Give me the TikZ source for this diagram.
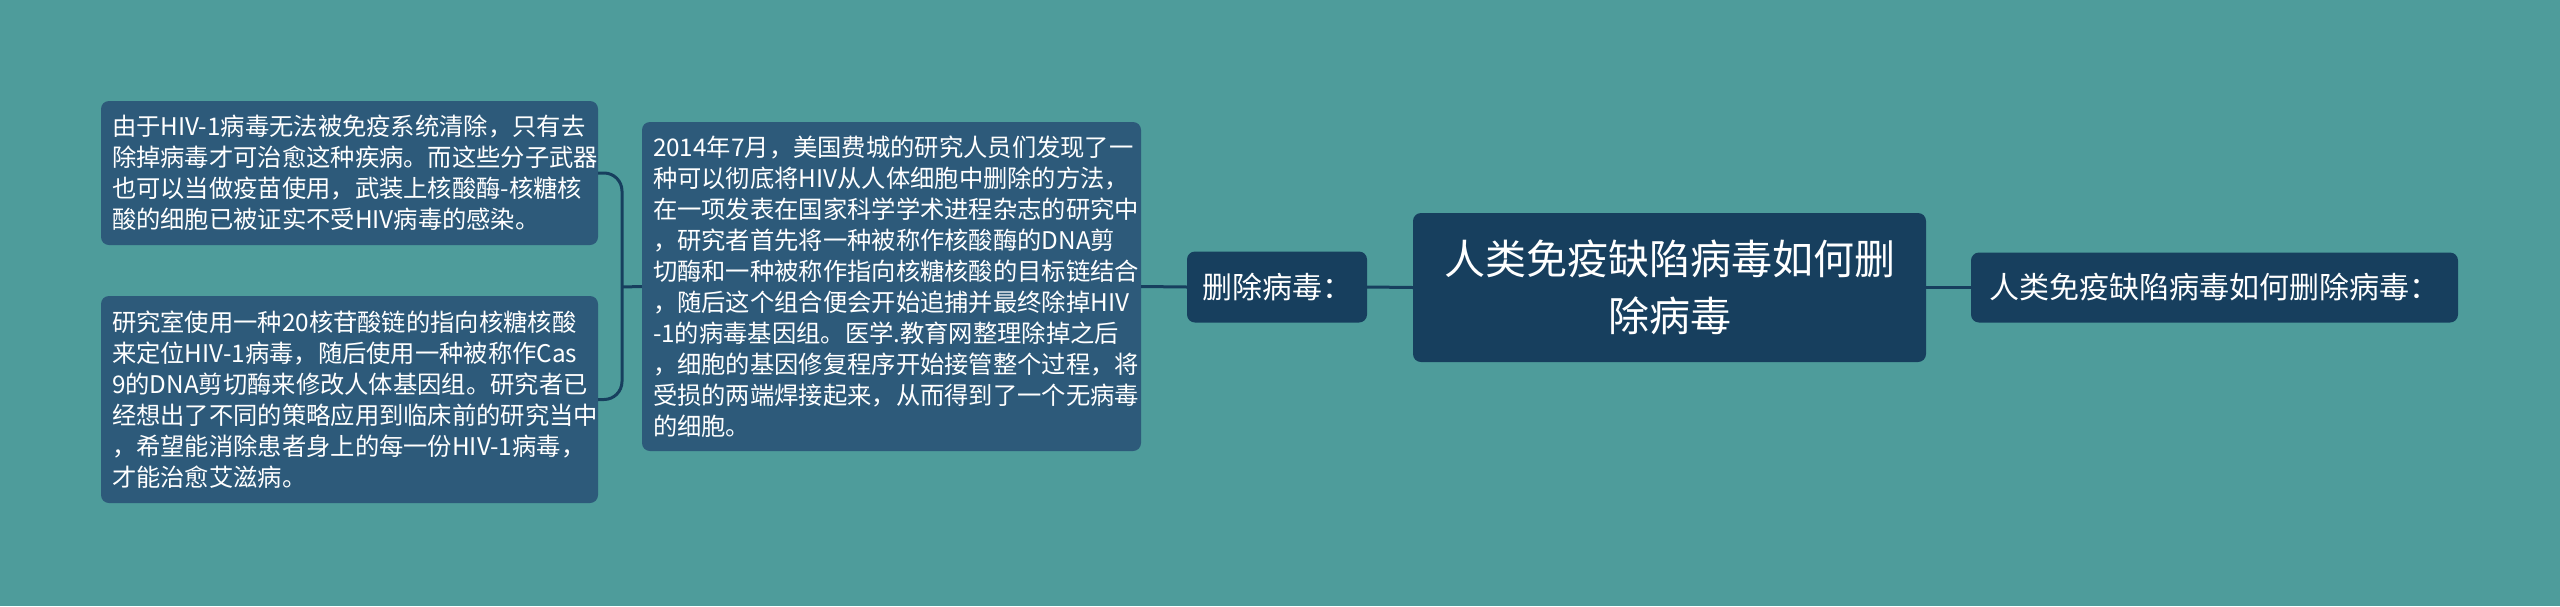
\documentclass[tikz,border=0pt]{standalone}
\usepackage{fontspec}
\setmainfont{Noto Sans CJK SC}
\definecolor{bgc}{HTML}{4E9C9B}
\definecolor{tboxc}{HTML}{2D5A7A}
\definecolor{darkc}{HTML}{173F5E}
\definecolor{linec}{HTML}{173F5E}
\tikzset{
  txtbox/.style={fill=tboxc, rounded corners=8pt, text=white, align=left,
    inner xsep=11pt, inner ysep=0pt, minimum width=497pt,
    font=\fontsize{24.3}{31}\selectfont},
  darkbox/.style={fill=darkc, rounded corners=8pt, text=white, align=center,
    inner sep=0pt},
  conn/.style={draw=linec, line width=3pt},
}
\begin{document}
\begin{tikzpicture}[x=1pt,y=-1pt]
\useasboundingbox (0,0) rectangle (2560,606);
\fill[bgc] (0,0) rectangle (2560,606);

\node[txtbox, text width=475pt, minimum height=144pt] (A) at (349.5,173) {由于HIV-1病毒无法被免疫系统清除，只有去\\除掉病毒才可治愈这种疾病。而这些分子武器\\也可以当做疫苗使用，武装上核酸酶-核糖核\\酸的细胞已被证实不受HIV病毒的感染。};

\node[txtbox, text width=475pt, minimum height=207pt] (B) at (349.5,399.5) {研究室使用一种20核苷酸链的指向核糖核酸\\来定位HIV-1病毒，随后使用一种被称作Cas\\9的DNA剪切酶来修改人体基因组。研究者已\\经想出了不同的策略应用到临床前的研究当中\\，希望能消除患者身上的每一份HIV-1病毒，\\才能治愈艾滋病。};

\node[txtbox, text width=477pt, minimum height=329pt] (C) at (891.5,286.5) {2014年7月，美国费城的研究人员们发现了一\\种可以彻底将HIV从人体细胞中删除的方法，\\在一项发表在国家科学学术进程杂志的研究中\\，研究者首先将一种被称作核酸酶的DNA剪\\切酶和一种被称作指向核糖核酸的目标链结合\\，随后这个组合便会开始追捕并最终除掉HIV\\-1的病毒基因组。医学.教育网整理除掉之后\\，细胞的基因修复程序开始接管整个过程，将\\受损的两端焊接起来，从而得到了一个无病毒\\的细胞。};

\node[darkbox, minimum width=180pt, minimum height=71pt, font=\fontsize{30}{36}\selectfont] (D) at (1277,287) {删除病毒：};

\node[darkbox, minimum width=513pt, minimum height=149pt, font=\fontsize{41}{57}\selectfont] (E) at (1669.5,287.5) {人类免疫缺陷病毒如何删\\除病毒};

\node[darkbox, minimum width=487pt, minimum height=70pt, font=\fontsize{30}{36}\selectfont] (F) at (2214.5,287.5) {人类免疫缺陷病毒如何删除病毒：};

\coordinate (brk) at (622,287);
\draw[conn] (F.west) -- (E.east);
\draw[conn] (E.west) -- (D.east);
\draw[conn] (D.west) -- (C.east);
\draw[conn] (C.west) -- (brk);
\draw[conn, rounded corners=18pt] (A.east) -| (brk) |- (B.east);
\end{tikzpicture}
\end{document}
